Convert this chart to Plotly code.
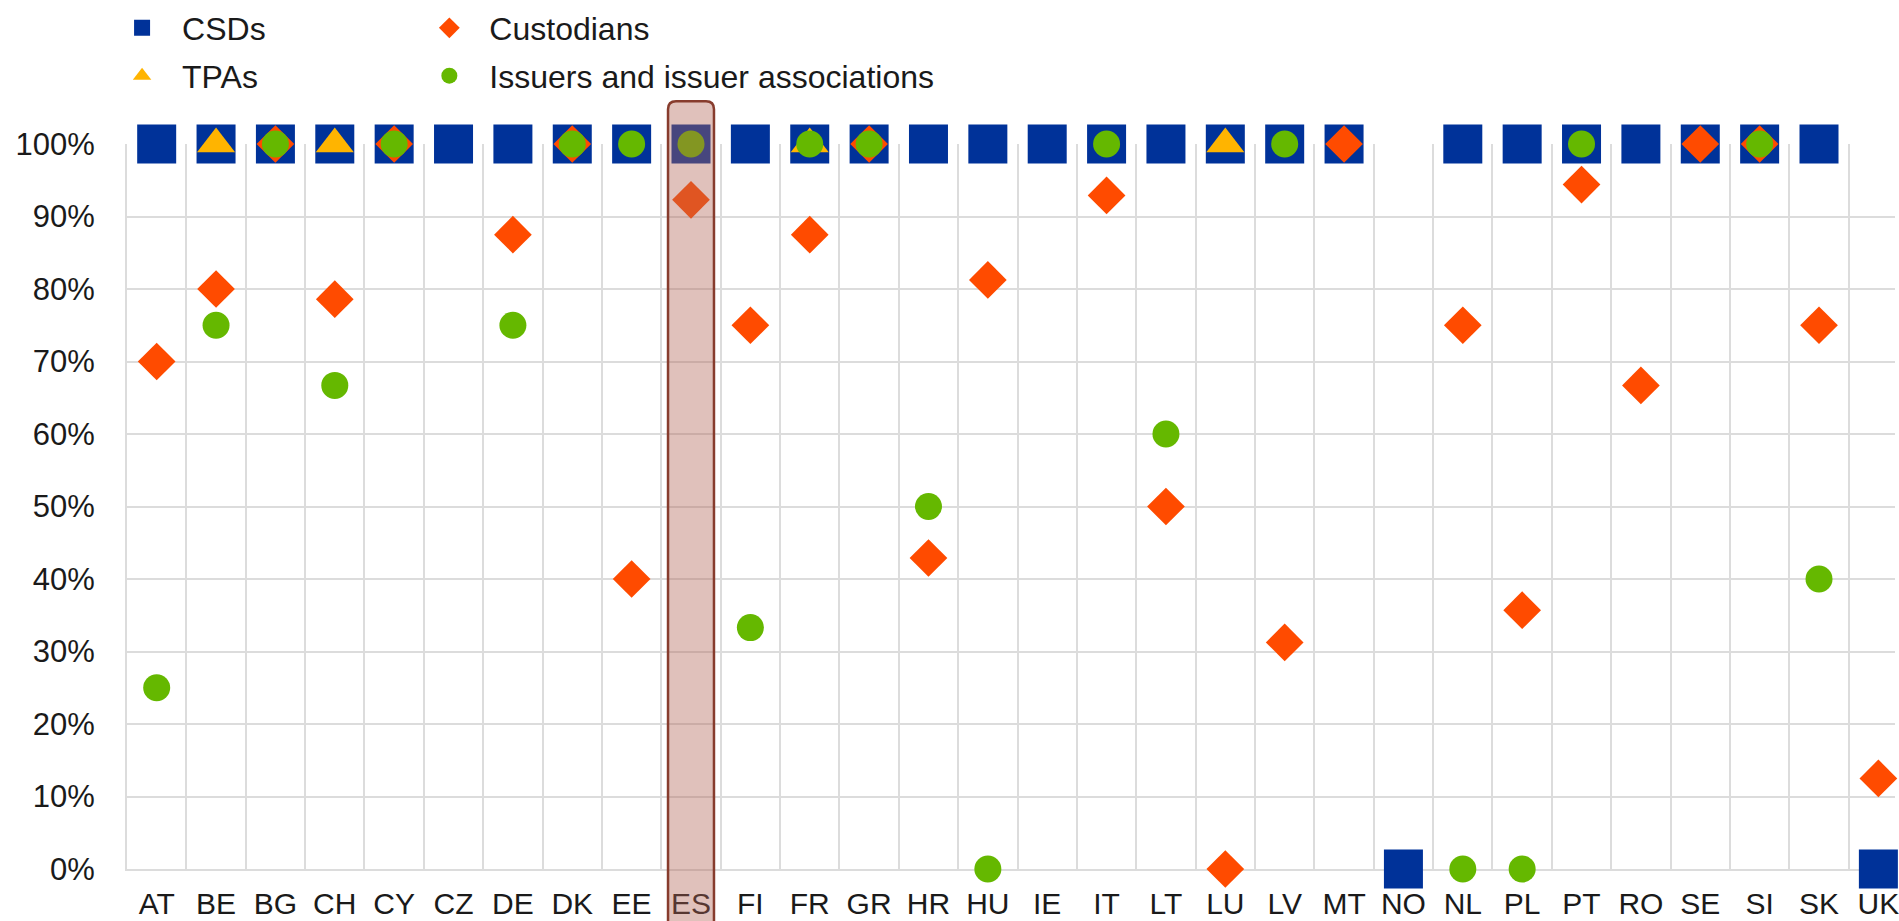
import plotly.graph_objects as go

countries = ["AT", "BE", "BG", "CH", "CY", "CZ", "DE", "DK", "EE", "ES",
             "FI", "FR", "GR", "HR", "HU", "IE", "IT", "LT", "LU", "LV",
             "MT", "NO", "NL", "PL", "PT", "RO", "SE", "SI", "SK", "UK"]

csds = [100, 100, 100, 100, 100, 100, 100, 100, 100, 100,
        100, 100, 100, 100, 100, 100, 100, 100, 100, 100,
        100, 0, 100, 100, 100, 100, 100, 100, 100, 0]

tpas = [None, 100, None, 100, None, None, None, None, None, None,
        None, 100, None, None, None, None, None, None, 100, None,
        None, None, None, None, None, None, None, None, None, None]

custodians = [70, 80, 100, 78.6, 100, None, 87.5, 100, 40, 92.3,
              75, 87.5, 100, 42.9, 81.25, None, 92.9, 50, 0, 31.25,
              100, None, 75, 35.7, 94.4, 66.7, 100, 100, 75, 12.5]

issuers = [25, 75, 100, 66.7, 100, None, 75, 100, 100, 100,
           33.3, 100, 100, 50, 0, None, 100, 60, None, 100,
           None, None, 0, 0, 100, None, None, 100, 40, None]

y_ticks = [0, 10, 20, 30, 40, 50, 60, 70, 80, 90, 100]
y_tick_labels = ["0%", "10%", "20%", "30%", "40%", "50%", "60%", "70%", "80%", "90%", "100%"]
highlight = "ES"

BLUE = "#003299"
ORANGE = "#ff4b00"
YELLOW = "#ffb400"
GREEN = "#65b800"
FONT = "Liberation Sans, Arial, sans-serif"
TXT = "#1a1a1a"
GRID = "#dcdcdc"

fig = go.Figure()
fig.add_trace(go.Scatter(x=countries, y=csds, mode="markers", name="CSDs",
                         marker=dict(symbol="square", size=39, color=BLUE),
                         cliponaxis=False, legend="legend"))
fig.add_trace(go.Scatter(x=countries, y=tpas, mode="markers", name="TPAs",
                         marker=dict(symbol="triangle-up", size=33, color=YELLOW),
                         cliponaxis=False, legend="legend2"))
fig.add_trace(go.Scatter(x=countries, y=custodians, mode="markers", name="Custodians",
                         marker=dict(symbol="diamond", size=29, color=ORANGE),
                         cliponaxis=False, legend="legend3"))
fig.add_trace(go.Scatter(x=countries, y=issuers, mode="markers",
                         name="Issuers and issuer associations",
                         marker=dict(symbol="circle", size=27, color=GREEN),
                         cliponaxis=False, legend="legend4"))

W, H = 1899, 921
ML, MR, MT, MB = 127, 0, 143, 52
x_range = [-0.5, 29.28]

# highlighted column (rounded rectangle), in paper coordinates derived from axis range
idx = countries.index(highlight)
span = x_range[1] - x_range[0]
x0 = (idx - 0.387 - x_range[0]) / span
x1 = (idx + 0.387 - x_range[0]) / span
y_top = 1.059
y_bot = -0.2
rx = 0.134 / span
ry = 0.011
path = (f"M{x0},{y_bot} L{x0},{y_top - ry} Q{x0},{y_top} {x0 + rx},{y_top} "
        f"L{x1 - rx},{y_top} Q{x1},{y_top} {x1},{y_top - ry} L{x1},{y_bot} Z")
fig.add_shape(type="path", path=path, xref="paper", yref="paper",
              fillcolor="rgba(178,100,85,0.4)",
              line=dict(color="#873c2d", width=2.5), layer="above")

leg_common = dict(font=dict(family=FONT, size=32, color=TXT), bgcolor="rgba(0,0,0,0)",
                  xanchor="left", yanchor="middle", itemwidth=70)
fig.update_layout(
    width=W, height=H,
    margin=dict(l=ML, r=MR, t=MT, b=MB, pad=0),
    plot_bgcolor="white", paper_bgcolor="white",
    font=dict(family=FONT, size=29, color=TXT),
    showlegend=True,
    legend=dict(x=-0.0141, y=1.160, **leg_common),
    legend2=dict(x=-0.0141, y=1.094, **leg_common),
    legend3=dict(x=0.1597, y=1.160, **leg_common),
    legend4=dict(x=0.1597, y=1.094, **leg_common),
    xaxis=dict(type="category", categoryorder="array", categoryarray=countries,
               range=x_range, tickson="boundaries", showgrid=True,
               gridcolor=GRID, gridwidth=2, showline=True, linecolor=GRID,
               linewidth=2, ticks="", ticklabelstandoff=7, layer="below traces",
               tickfont=dict(family=FONT, size=30, color=TXT)),
    yaxis=dict(range=[0, 100], tickmode="array", tickvals=y_ticks, ticktext=y_tick_labels,
               showgrid=True, gridcolor=GRID, gridwidth=2, zeroline=False, showline=True,
               linecolor=GRID, linewidth=2, ticks="", ticklabelstandoff=24,
               layer="below traces",
               tickfont=dict(family=FONT, size=31, color=TXT)),
)

fig.write_html("out.html", config={"displayModeBar": False},
               post_script="document.body.style.margin='0px';")
